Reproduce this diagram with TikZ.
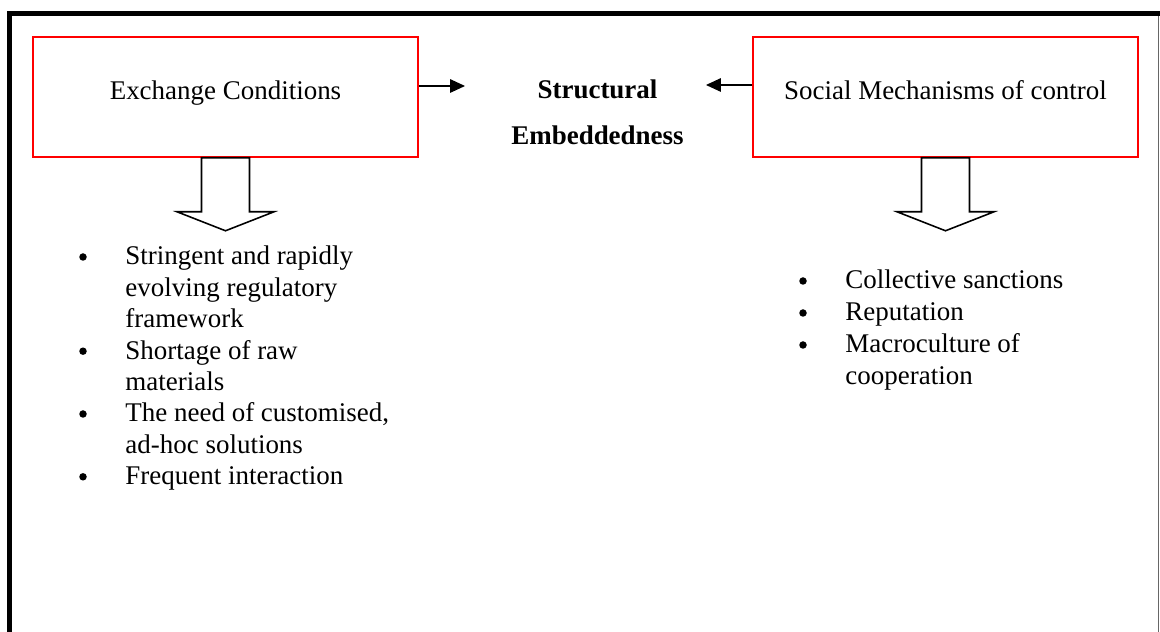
\documentclass[tikz,border=0pt]{standalone}
\usepackage{fontspec}
\setmainfont{Liberation Serif}
\usetikzlibrary{arrows.meta,calc}
\def\pxu{0.445pt}
\tikzset{
  txt/.style={font=\fontsize{12pt}{14pt}\selectfont, inner sep=0pt},
  redbox/.style={draw=red, line width=0.7pt, minimum width=385*\pxu, minimum height=120*\pxu,
                 inner sep=0pt, text height=5pt, text depth=3.2pt, font=\fontsize{12pt}{14pt}\selectfont},
  arr/.style={line width=0.5pt, -{Triangle[length=6.6pt,width=6pt]}},
  blockarrow/.style={draw=black, fill=white, line width=0.7pt, line join=miter},
  dot/.style={circle, fill=black, inner sep=0pt, minimum size=7.5*\pxu},
  item/.style={txt, anchor=base west},
}
\begin{document}
\begin{tikzpicture}[x=\pxu, y=-\pxu]
\useasboundingbox (0,0) rectangle (1160,632);

% page frame: thin grey right side, heavy black left and top
\draw[line width=0.7pt, color=black!60] (1158.6,14) -- (1158.6,632);
\draw[line width=2.2pt, line join=miter] (9.8,632) -- (9.8,13.7) -- (1160,13.7);

% the two source boxes
\node[redbox] (lbox) at (225.5,97) {Exchange Conditions};
\node[redbox] (rbox) at (945.5,97) {Social Mechanisms of control};

% central concept
\node[txt, font=\fontsize{12pt}{20.6pt}\selectfont\bfseries, align=center, anchor=base]
  (emb) at (597.5,145) {Structural\\Embeddedness};

% arrows pointing towards the central concept
\coordinate (lt) at (465,86);
\coordinate (rt) at (706,85);
\draw[arr] (lbox.east |- lt) -- (lt);
\draw[arr] (rbox.west |- rt) -- (rt);

% hollow block arrows below each box
\foreach \b in {lbox, rbox}{
  \draw[blockarrow] ($(\b.south)+(-24,0)$) -- ++(0,54) -- ++(-24.5,0)
    -- ($(\b.south)+(0,73)$) -- ($(\b.south)+(48.5,54)$) -- ++(-24.5,0)
    -- ($(\b.south)+(24,0)$) -- cycle;
}

% list of exchange conditions
\foreach \t [count=\i from 0] in {Stringent and rapidly, evolving regulatory, framework,
    Shortage of raw, materials, {The need of customised,}, ad-hoc solutions, Frequent interaction}{
  \node[item] (l\i) at (125,265+31.4*\i) {\t};
}
\foreach \i in {0,3,5,7}{
  \node[dot] (lb\i) at (83,257+31.4*\i) {};
}

% list of social mechanisms
\foreach \t [count=\i from 0] in {Collective sanctions, Reputation, Macroculture of, cooperation}{
  \node[item] (r\i) at (845,289+32*\i) {\t};
}
\foreach \i in {0,1,2}{
  \node[dot] (rb\i) at (803,281+32*\i) {};
}
\end{tikzpicture}
\end{document}
